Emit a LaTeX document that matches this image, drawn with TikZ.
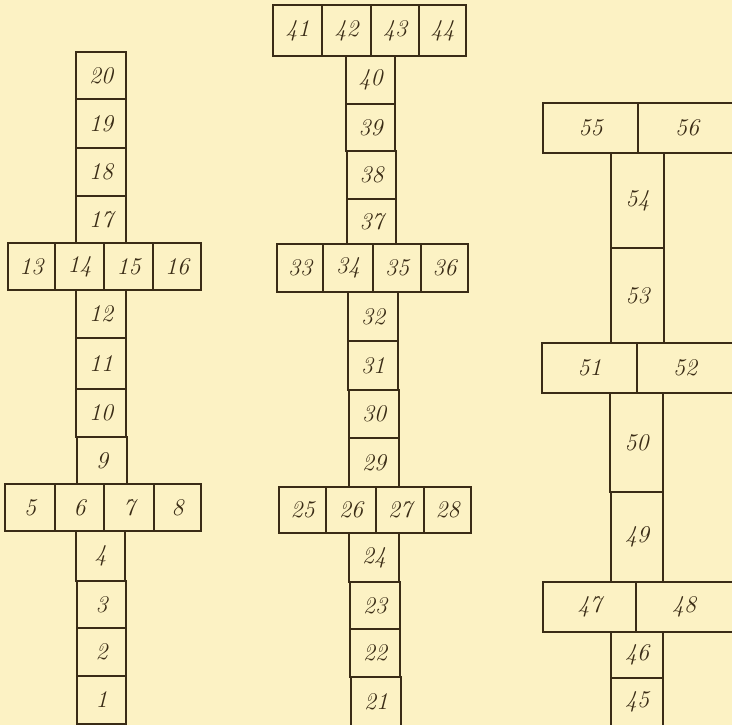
\documentclass[tikz,border=0pt]{standalone}
\definecolor{paper}{HTML}{FCF2C4}
\definecolor{ink}{HTML}{3A2C16}
\newcommand{\cellbox}[6]{%
  \node[cellstyle, minimum width={#4pt-#2pt}, minimum height={#5pt-#3pt}]
    (c#1) at ({(#2+#4)/2},{(#3+#5)/2}) {#6};}
\begin{document}
\begin{tikzpicture}[x=1pt,y=-1pt,
  numfont/.style={text=ink, font=\fontsize{24}{26}\selectfont\itshape},
  cellstyle/.style={draw=ink, line width=1.1pt, inner sep=0pt, outer sep=0pt, numfont}]
\fill[paper] (0,0) rectangle (732,725);
\useasboundingbox (0,0) rectangle (732,725);
\clip (0,0) rectangle (732,725);
% column 1
\cellbox{20}{76}{52}{126}{99}{20}
\cellbox{19}{76}{99}{126}{148}{19}
\cellbox{18}{76}{148}{126}{196}{18}
\cellbox{17}{76}{196}{126}{243}{17}
\cellbox{13}{8}{243}{55}{290}{13}
\cellbox{14}{55}{243}{104}{290}{14}
\cellbox{15}{104}{243}{153}{290}{15}
\cellbox{16}{153}{243}{201}{290}{16}
\cellbox{12}{76}{290}{126}{338}{12}
\cellbox{11}{76}{338}{126}{389}{11}
\cellbox{10}{76}{389}{126}{437}{10}
\cellbox{9}{77}{437}{127}{484}{9}
\cellbox{5}{5}{484}{55}{531}{5}
\cellbox{6}{55}{484}{104}{531}{6}
\cellbox{7}{104}{484}{154}{531}{7}
\cellbox{8}{154}{484}{201}{531}{8}
\cellbox{4}{76}{531}{125}{581}{4}
\cellbox{3}{77}{581}{126}{628}{3}
\cellbox{2}{77}{628}{126}{676}{2}
\cellbox{1}{77}{676}{126}{724}{1}
% column 2
\cellbox{41}{273}{5}{322}{56}{41}
\cellbox{42}{322}{5}{371}{56}{42}
\cellbox{43}{371}{5}{419}{56}{43}
\cellbox{44}{419}{5}{466}{56}{44}
\cellbox{40}{346}{56}{395}{104}{40}
\cellbox{39}{346}{104}{395}{151}{39}
\cellbox{38}{347}{151}{396}{199}{38}
\cellbox{37}{347}{199}{396}{244}{37}
\cellbox{33}{277}{244}{323}{292}{33}
\cellbox{34}{323}{244}{373}{292}{34}
\cellbox{35}{373}{244}{421}{292}{35}
\cellbox{36}{421}{244}{468}{292}{36}
\cellbox{32}{348}{292}{398}{341}{32}
\cellbox{31}{348}{341}{398}{390}{31}
\cellbox{30}{349}{390}{399}{438}{30}
\cellbox{29}{349}{438}{399}{487}{29}
\cellbox{25}{279}{487}{326}{533}{25}
\cellbox{26}{326}{487}{376}{533}{26}
\cellbox{27}{376}{487}{424}{533}{27}
\cellbox{28}{424}{487}{471}{533}{28}
\cellbox{24}{349}{533}{399}{582}{24}
\cellbox{23}{350}{582}{400}{629}{23}
\cellbox{22}{350}{629}{400}{677}{22}
\node[cellstyle, minimum width=50pt, minimum height=96pt, anchor=north west] (c21) at (351,677) {};
\node[numfont] (t21) at (376,702) {21};
% column 3
\cellbox{55}{543}{103}{638}{153}{55}
\node[cellstyle, minimum width=110pt, minimum height=50pt, anchor=north west] (c56) at (638,103) {};
\node[numfont] (t56) at (687,128) {56};
\cellbox{54}{611}{153}{664}{248}{54}
\cellbox{53}{611}{248}{664}{343}{53}
\cellbox{51}{542}{343}{637}{393}{51}
\node[cellstyle, minimum width=110pt, minimum height=50pt, anchor=north west] (c52) at (637,343) {};
\node[numfont] (t52) at (685,368) {52};
\cellbox{50}{610}{393}{663}{492}{50}
\cellbox{49}{611}{492}{663}{582}{49}
\cellbox{47}{543}{582}{636}{632}{47}
\node[cellstyle, minimum width=110pt, minimum height=50pt, anchor=north west] (c48) at (636,582) {};
\node[numfont] (t48) at (684,607) {48};
\cellbox{46}{611}{632}{663}{678}{46}
\node[cellstyle, minimum width=52pt, minimum height=96pt, anchor=north west] (c45) at (611,678) {};
\node[numfont] (t45) at (637,702) {45};
\end{tikzpicture}
\end{document}
